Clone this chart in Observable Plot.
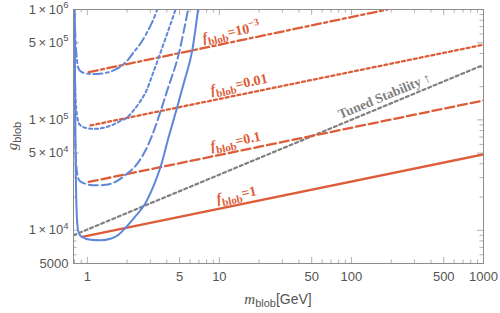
<!DOCTYPE html>
<html>
<head>
<meta charset="utf-8">
<script src="https://cdn.jsdelivr.net/npm/d3@7"></script>
<script src="https://cdn.jsdelivr.net/npm/@observablehq/plot@0.6"></script>
<style>
html, body { margin: 0; padding: 0; background: #fff; }
svg { display: block; }
</style>
</head>
<body>
<div id="chart"></div>
<script>
// ---------------- data ----------------
const xMajorTicks = [1, 5, 10, 50, 100, 500, 1000];
const xTickLabels = ["1", "5", "10", "50", "100", "500", "1000"];
const xMinorTicks = [0.8, 0.9, 2, 3, 4, 6, 7, 8, 9, 20, 30, 40, 60, 70, 80, 90, 200, 300, 400, 600, 700, 800, 900];
const yMajorTicks = [5000, 1e4, 5e4, 1e5, 5e5, 1e6];
const yTickLabels = ["5000", "1×10^4", "5×10^4", "1×10^5", "5×10^5", "1×10^6"];
const yMinorTicks = [6000, 7000, 8000, 9000, 2e4, 3e4, 4e4, 6e4, 7e4, 8e4, 9e4, 2e5, 3e5, 4e5, 6e5, 7e5, 8e5, 9e5];

// blue constraint curves (m_blob [GeV], g_blob)
const solidM = [0.800, 0.814, 0.836, 0.858, 0.904, 1.057, 1.259, 1.499, 1.723, 1.947, 2.279, 2.679, 3.118, 3.585, 4.122, 4.797, 5.450, 6.233, 6.898];
const solidG = [1e6, 5.30e4, 1.232e4, 9592, 8733, 8204, 8119, 8377, 9105, 1.053e4, 1.311e4, 1.666e4, 2.40e4, 3.74e4, 6.94e4, 1.306e5, 2.28e5, 4.26e5, 1e6];
const dashedM = [0.793, 0.800, 0.814, 0.836, 0.873, 0.969, 1.154, 1.374, 1.635, 1.947, 2.401, 2.760, 3.118, 3.585, 4.030, 4.934, 5.793];
const dashedG = [1e6, 1.501e5, 5.30e4, 3.35e4, 2.805e4, 2.635e4, 2.554e4, 2.58e4, 2.748e4, 3.18e4, 4.04e4, 5.30e4, 7.39e4, 1.194e5, 1.849e5, 4.00e5, 1e6];
const dottedM = [0.793, 0.800, 0.814, 0.836, 0.873, 0.969, 1.114, 1.327, 1.552, 1.784, 1.982, 2.239, 2.529, 2.809, 3.118, 3.481, 3.981, 4.658];
const dottedG = [1e6, 4.26e5, 1.667e5, 1.098e5, 9.10e4, 8.47e4, 8.29e4, 8.47e4, 9.01e4, 9.79e4, 1.042e5, 1.219e5, 1.486e5, 1.849e5, 2.58e5, 3.70e5, 5.82e5, 1e6];
const dashDotM = [0.797, 0.814, 0.836, 0.865, 0.920, 1.057, 1.195, 1.374, 1.579, 1.784, 2.016, 2.239, 2.529, 2.858, 3.118, 3.385];
const dashDotG = [1e6, 5.24e5, 3.455e5, 2.864e5, 2.69e5, 2.608e5, 2.608e5, 2.663e5, 2.805e5, 3.05e5, 3.455e5, 4.08e5, 4.92e5, 6.32e5, 7.79e5, 1e6];

// red f_blob lines
const fValues = ["1", "0.1", "0.01", "10^-3"];
const fStartM = [0.915, 1.026, 1.057, 1.026];
const fStartG = [8697, 27400, 89100, 270800];
const fEndM = [1000, 1000, 1000, 187];
const fEndG = [48700, 150000, 480000, 1e6];
const fLabelM = [9.69, 8.73, 8.73, 7.59];
const fLabelG = [1.755e4, 5.24e4, 1.70e5, 5.03e5];

// tuned stability line
const tunedM = [0.786, 1000];
const tunedG = [9010, 315000];
const tunedLabel = "Tuned Stability ↑";
const tunedLabelM = [82.8];
const tunedLabelG = [1.02e5];

// ---------------- styling ----------------
const BLUE = "#5f86d8", RED = "#dc5d37", GRAY = "#808080";
const TICK = "#b0b0b0";
const dashes = ["none", "9,4", "3,3", "9,3.5,3,3.5"]; // solid, dashed, dotted, dash-dot
const W = 500, H = 313, ML = 73, MR = 17, MT = 9, MB = 50;
const FW = W - ML - MR, FH = H - MT - MB;

const blueCurves = [[solidM, solidG], [dashedM, dashedG], [dottedM, dottedG], [dashDotM, dashDotG]];
const blueMarks = blueCurves.map(([ms, gs], k) =>
  Plot.line(ms.map((m, i) => ({m, g: gs[i]})), {
    x: "m", y: "g", stroke: BLUE, strokeWidth: 2, strokeDasharray: dashes[k],
    curve: "monotone-x", clip: true
  }));
const redMarks = fValues.map((v, k) =>
  Plot.line([{m: fStartM[k], g: fStartG[k]}, {m: fEndM[k], g: fEndG[k]}], {
    x: "m", y: "g", stroke: RED, strokeWidth: 2.3, strokeDasharray: dashes[k], clip: true
  }));
const fLabelRows = fValues.map((v, k) => ({m: fLabelM[k], g: fLabelG[k], t: "f_blob=" + v}));

const plot = Plot.plot({
  width: W, height: H,
  marginLeft: ML, marginRight: MR, marginTop: MT, marginBottom: MB,
  style: {fontFamily: "'Liberation Sans', Arial, sans-serif", fontSize: "13px", color: "#555", background: "#fff"},
  x: {type: "log", domain: [0.786, 1000], axis: null},
  y: {type: "log", domain: [5000, 1e6], axis: null},
  marks: [
    // inward ticks on all four sides
    Plot.ruleX(xMajorTicks, {stroke: TICK, insetTop: FH - 6}),
    Plot.ruleX(xMinorTicks, {stroke: TICK, insetTop: FH - 3.5}),
    Plot.ruleX(xMajorTicks, {stroke: TICK, insetBottom: FH - 6}),
    Plot.ruleX(xMinorTicks, {stroke: TICK, insetBottom: FH - 3.5}),
    Plot.ruleY(yMajorTicks, {stroke: TICK, insetRight: FW - 6}),
    Plot.ruleY(yMinorTicks, {stroke: TICK, insetRight: FW - 3.5}),
    Plot.ruleY(yMajorTicks, {stroke: TICK, insetLeft: FW - 6}),
    Plot.ruleY(yMinorTicks, {stroke: TICK, insetLeft: FW - 3.5}),
    // tick labels
    Plot.text(xMajorTicks, {x: d => d, text: (d, i) => xTickLabels[i], frameAnchor: "bottom", lineAnchor: "top",
      dy: 8, fontSize: 13, fill: "#555"}),
    Plot.text(yMajorTicks, {y: d => d, text: (d, i) => yTickLabels[i], frameAnchor: "left", textAnchor: "end",
      dx: -5, fontSize: 13, fill: "#555"}),
    Plot.line(tunedM.map((m, i) => ({m, g: tunedG[i]})), {x: "m", y: "g", stroke: GRAY, strokeWidth: 2.2, strokeDasharray: "3,3", clip: true}),
    ...redMarks,
    ...blueMarks,
    Plot.frame({stroke: "#8c8c8c", strokeWidth: 1}),
    Plot.text(fLabelRows, {x: "m", y: "g", text: "t", rotate: -11.8, textAnchor: "start", lineAnchor: "bottom",
      fill: RED, fontFamily: "'Liberation Serif', 'Times New Roman', serif", fontWeight: "bold", fontSize: 14}),
    Plot.text(tunedLabelM.map((m, i) => ({m, g: tunedLabelG[i], t: tunedLabel})), {x: "m", y: "g", text: "t", rotate: -22.6,
      textAnchor: "start", lineAnchor: "bottom", fill: GRAY,
      fontFamily: "'Liberation Serif', 'Times New Roman', serif", fontWeight: "bold", fontSize: 13.5})
  ]
});

// ---------------- rich text (sub/superscripts) ----------------
function rich(el, segs, base) {
  const s = d3.select(el);
  s.text(null);
  let shift = 0;
  segs.forEach(seg => {
    const t = s.append("tspan").text(seg.t);
    const target = seg.k === "sub" ? base * 0.28 : seg.k === "sup" ? -base * 0.42 : 0;
    if (target !== shift) t.attr("dy", (target - shift).toFixed(2));
    shift = target;
    if (seg.size) t.attr("font-size", seg.size);
    if (seg.it) t.attr("font-style", "italic");
    if (seg.font) t.attr("font-family", seg.font);
  });
}

const svg = d3.select(plot);
svg.selectAll("text").each(function () {
  const txt = this.textContent;
  if (txt.startsWith("f_blob=")) {
    const v = txt.slice(7);
    const segs = [{t: "f", it: true}, {t: "blob", k: "sub", size: 11}];
    if (v.includes("^")) {
      const [b, e] = v.split("^");
      segs.push({t: "=" + b}, {t: e.replace("-", "−"), k: "sup", size: 10});
    } else segs.push({t: "=" + v});
    rich(this, segs, 14);
  } else if (txt.includes("^")) {
    const [b, e] = txt.split("^");
    rich(this, [{t: b.replace("×", "\u2009×\u2009")}, {t: e, k: "sup", size: 9.5}], 13);
  }
});

// axis titles
const serif = "'Liberation Serif', 'Times New Roman', serif";
const xt = svg.append("text").attr("x", ML + FW / 2).attr("y", 303.5).attr("text-anchor", "middle")
  .attr("fill", "#555").attr("font-size", 14).node();
rich(xt, [{t: "m", it: true, font: serif, size: 15}, {t: "blob", k: "sub", size: 11}, {t: "[GeV]"}], 14);
const yt = svg.append("text").attr("transform", `translate(17,${MT + FH / 2}) rotate(-90)`).attr("text-anchor", "middle")
  .attr("fill", "#555").attr("font-size", 14).node();
rich(yt, [{t: "g", it: true, font: serif, size: 15}, {t: "blob", k: "sub", size: 11}], 14);

document.getElementById("chart").appendChild(plot);
</script>
</body>
</html>
